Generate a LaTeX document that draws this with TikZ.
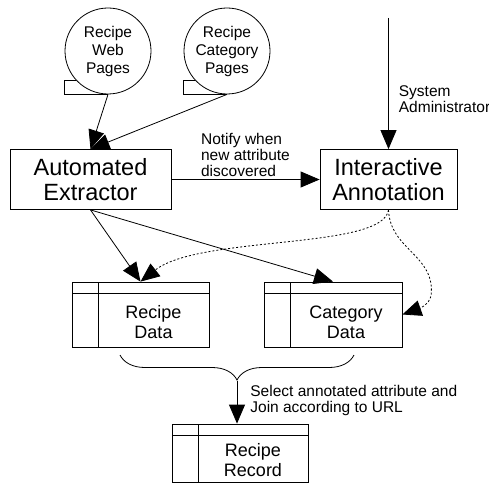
\documentclass[tikz,border=0pt]{standalone}
\usepackage{fontspec}
\setmainfont{Liberation Sans}
\usepackage{tikz}
\usetikzlibrary{arrows.meta,decorations.pathreplacing}
\tikzset{thinline/.style={line width=.8pt}}
\tikzset{arr/.style={thinline, -{Triangle[length=19pt,width=16pt]}}}
\tikzset{dotarr/.style={arr, dash pattern=on 2pt off 2pt}}
\tikzset{lbl/.style={inner sep=0pt, align=left, font=\fontsize{15.5}{16}\selectfont}}
\tikzset{webdoc/.style={draw, thinline, circle, minimum size=86pt, inner sep=0pt,
  align=center, font=\fontsize{15.5}{18}\selectfont}}
\tikzset{process/.style={draw, thinline, inner sep=0pt, align=center,
  font=\fontsize{23.5}{25}\selectfont}}
\tikzset{store/.style={draw, thinline, inner sep=0pt,
  path picture={
    \draw[thinline] ([yshift=-11pt]path picture bounding box.north west) -- ([yshift=-11pt]path picture bounding box.north east);
    \draw[thinline] ([xshift=26pt]path picture bounding box.north west) -- ([xshift=26pt]path picture bounding box.south west);
  }}}
\tikzset{storetext/.style={align=center, xshift=13pt, yshift=-7.5pt,
  font=\fontsize{18}{20}\selectfont}}

\begin{document}
\begin{tikzpicture}[x=1pt, y=-1pt]
\useasboundingbox (0,0) rectangle (489,484);

\node[webdoc] (webpages) at (108,51) {Recipe\\Web\\Pages};
\draw[thinline] (webpages.south) -| (webpages.west |- webpages.222) -- (webpages.222);
\node[webdoc] (catpages) at (227,51) {Recipe\\Category\\Pages};
\draw[thinline] (catpages.south) -| (catpages.west |- catpages.222) -- (catpages.222);

\node[process, minimum width=161pt, minimum height=60pt] (extractor) at (90.5,179.5) {Automated\\Extractor};
\node[process, minimum width=137pt, minimum height=60pt] (annotation) at (388.5,179.5) {Interactive\\Annotation};

\node[store, minimum width=137pt, minimum height=65pt,
  label={[storetext]center:{Recipe\\Data}}] (recipedata) at (140.5,314.5) {};
\node[store, minimum width=138pt, minimum height=65pt,
  label={[storetext]center:{Category\\Data}}] (categorydata) at (333,314.5) {};
\node[store, minimum width=136pt, minimum height=58pt,
  label={[storetext]center:{Recipe\\Record}}] (record) at (240,453) {};

\coordinate (admin) at (388.5,18);
\coordinate (join) at (237,381);

\draw[arr] (webpages.south) -- (extractor.north);
\draw[arr] (catpages.south) -- (extractor.north);
\draw[arr] (admin) -- node[lbl, right=10pt, pos=.62] {System\\Administrator} (annotation.north);
\draw[arr] (extractor) -- node[lbl, above=2pt] {Notify when\\new attribute\\discovered} (annotation);
\draw[arr] (extractor.south) -- (recipedata.north);
\draw[arr] (extractor.south) -- (categorydata.north);
\draw[dotarr] (annotation.south) .. controls (383,250) and (200,235) .. (recipedata.north);
\draw[dotarr] (annotation.south) .. controls (390,250) and (436,255) .. (431,296)
  .. controls (429,305) and (418,309) .. (categorydata.east);

\draw[thinline, decorate, decoration={brace, mirror, amplitude=25pt}] (120,355) -- (354,355);
\draw[arr] (join) -- node[lbl, right=13pt, pos=.45] {Select annotated attribute and\\Join according to URL} (join |- record.north);
\end{tikzpicture}
\end{document}
